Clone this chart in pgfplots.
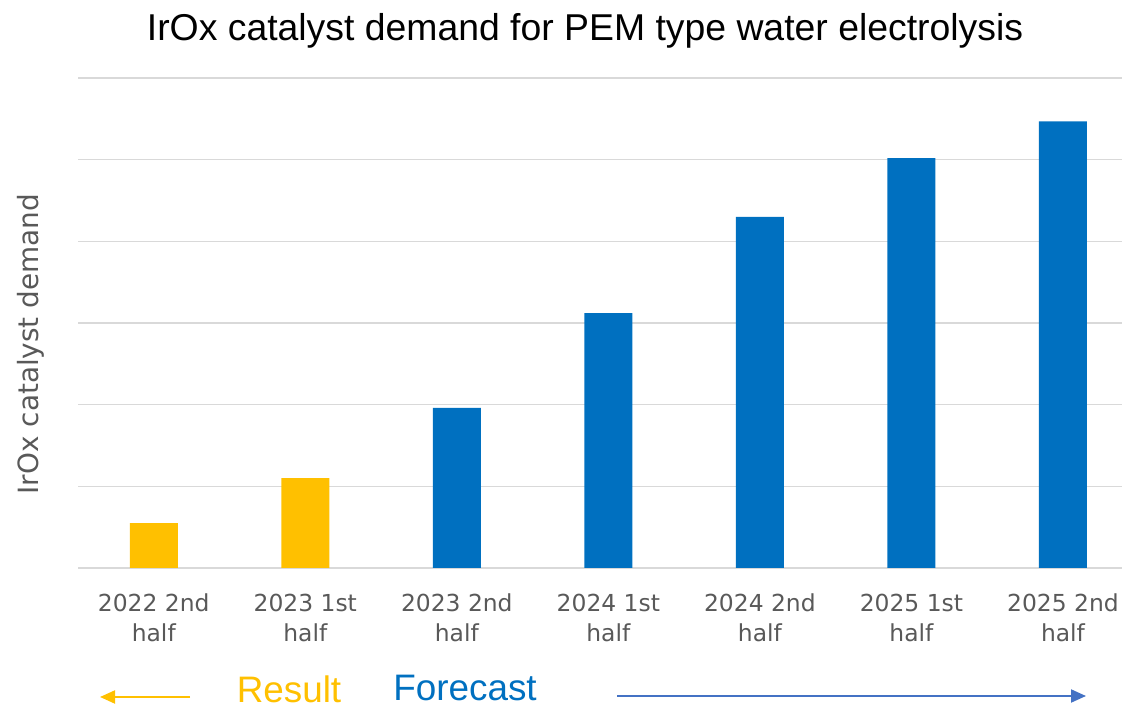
\documentclass[border=0pt]{standalone}
\usepackage{pgfplots}
\pgfplotsset{compat=1.18}
\usetikzlibrary{arrows.meta}
\usepackage{fontspec}
\setmainfont{DejaVu Sans}
\newfontfamily\arialfont{Liberation Sans}
\definecolor{resy}{HTML}{FFC000}
\definecolor{fcb}{HTML}{0070C0}
\definecolor{arrb}{HTML}{4472C4}
\definecolor{gridc}{HTML}{D9D9D9}
\definecolor{tickc}{HTML}{595959}
\begin{document}
\begin{tikzpicture}[x=1bp,y=1bp]
\useasboundingbox (0,0) rectangle (1124,709);
\begin{axis}[
  at={(78bp,141bp)}, anchor=south west,
  scale only axis, width=1044bp, height=490bp,
  xmin=-0.5, xmax=6.39, ymin=0, ymax=6,
  ytick={0,1,2,3,4,5,6}, yticklabels={},
  ymajorgrids, grid style={gridc, line width=1.3bp},
  axis line style={draw=none}, tick style={draw=none},
  xtick={0,1,2,3,4,5,6},
  xticklabels={{2022 2nd\strut\\half\strut},{2023 1st\strut\\half\strut},{2023 2nd\strut\\half\strut},{2024 1st\strut\\half\strut},{2024 2nd\strut\\half\strut},{2025 1st\strut\\half\strut},{2025 2nd\strut\\half\strut}},
  xticklabel style={align=center, font=\fontsize{23.5}{30}\selectfont, text=tickc, yshift=-19bp},
  clip=false,
]
\addplot[ybar, bar width=48bp, bar shift=0pt, fill=resy, draw=none] coordinates {(0,0.55) (1,1.10)};
\addplot[ybar, bar width=48bp, bar shift=0pt, fill=fcb, draw=none] coordinates {(2,1.96) (3,3.12) (4,4.30) (5,5.02) (6,5.47)};
\end{axis}
\node[anchor=base, font=\arialfont\fontsize{37.5}{44}\selectfont] at (585,668) {IrOx catalyst demand for PEM type water electrolysis};
\node[rotate=90, font=\fontsize{28}{34}\selectfont, text=tickc] at (31,365) {IrOx catalyst demand};
\node[anchor=base, inner sep=0pt, font=\arialfont\fontsize{37}{44}\selectfont, text=resy] at (289,6) {Result};
\node[anchor=base, inner sep=0pt, font=\arialfont\fontsize{37}{44}\selectfont, text=fcb] at (465,8) {Forecast};
\draw[resy, line width=2bp, -{Triangle[length=15bp,width=13bp]}] (190,12) -- (100,12);
\draw[arrb, line width=2bp, -{Triangle[length=15bp,width=13bp]}] (617,13) -- (1086,13);
\end{tikzpicture}
\end{document}
